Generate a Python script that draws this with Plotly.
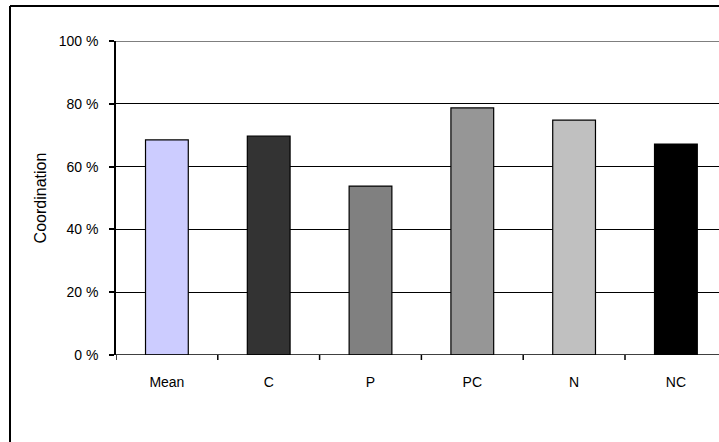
import plotly.graph_objects as go

categories = ["Mean", "C", "P", "PC", "N", "NC"]
values = [68.5, 69.7, 53.8, 78.7, 74.8, 67.2]
colors = ["#CCCCFF", "#333333", "#808080", "#969696", "#C0C0C0", "#000000"]
y_ticks = [0, 20, 40, 60, 80, 100]
y_labels = ["0 %", "20 %", "40 %", "60 %", "80 %", "100 %"]

W, H = 719, 442
left, top, bottom_px = 116, 41, 355
plot_w = W - left
plot_h = bottom_px - top

fig = go.Figure()
fig.add_trace(go.Bar(
    x=list(range(len(categories))), y=values,
    marker=dict(color=colors, line=dict(color="#000000", width=1.2)),
    width=0.42, showlegend=False,
))

font = dict(family="Liberation Sans, Arial, sans-serif", size=14, color="#000000")
title_font = dict(family="Liberation Sans, Arial, sans-serif", size=16, color="#000000")
cat_w = 101.8
xmax = -0.5 + plot_w / cat_w

fig.update_layout(
    width=W, height=H,
    margin=dict(l=left, r=0, t=top, b=H - bottom_px),
    paper_bgcolor="white", plot_bgcolor="white",
    font=font,
    xaxis=dict(
        range=[-0.5, xmax], tickmode="array",
        tickvals=list(range(len(categories))), ticktext=categories,
        showgrid=False, zeroline=False, showline=False,
        ticks="", ticklen=0, tickfont=font, ticklabelstandoff=17,
    ),
    yaxis=dict(
        range=[0, 100], tickmode="array", tickvals=y_ticks, ticktext=y_labels,
        showgrid=True, gridcolor="#000000", gridwidth=1,
        zeroline=False, showline=True, linecolor="#000000", linewidth=1.5,
        ticks="outside", ticklen=5, tickcolor="#000000", tickwidth=1.5,
        tickfont=font, ticklabelstandoff=8,
        title=dict(text="Coordination", font=title_font, standoff=8),
    ),
)

# 100 % gridline
fig.add_shape(type="line", xref="paper", yref="y", x0=0, x1=1, y0=100, y1=100,
              line=dict(color="#000000", width=1))
# x axis line at 0 and boundary ticks
fig.add_shape(type="line", xref="paper", yref="y", x0=0, x1=1, y0=0, y1=0,
              line=dict(color="#000000", width=1.5))
for i in range(len(categories) + 1):
    b = i - 0.5
    if b < xmax:
        fig.add_shape(type="line", xref="x", yref="paper", x0=b, x1=b,
                      y0=0, y1=-5 / plot_h, line=dict(color="#000000", width=1.5))

# outer chart border
bx = (10 - left) / plot_w
by_top = (bottom_px - 6) / plot_h
fig.add_shape(type="line", xref="paper", yref="paper", x0=bx, x1=bx,
              y0=by_top, y1=-0.4, line=dict(color="#000000", width=2))
fig.add_shape(type="line", xref="paper", yref="paper", x0=bx, x1=1.05,
              y0=by_top, y1=by_top, line=dict(color="#000000", width=2))

fig.write_html("out.html")
